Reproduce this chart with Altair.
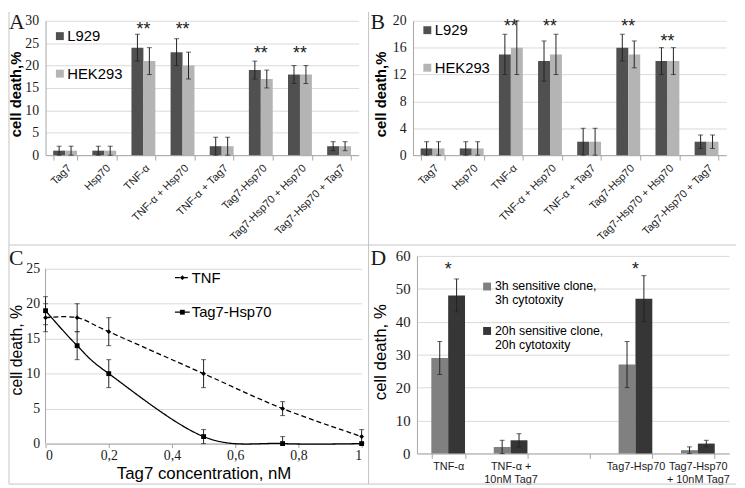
import altair as alt
import pandas as pd

SANS = "Liberation Sans"
SERIF = "Liberation Serif"
GRID = "#d9d9d9"
AXIS = "#a6a6a6"
ERR = "#222222"
BORDER = "#c4c4c4"
INK = "#1a1a1a"

# ---------------- data ----------------
CATEGORIES = ["Tag7", "Hsp70", "TNF-α", "TNF-α + Hsp70", "TNF-α + Tag7",
              "Tag7-Hsp70", "Tag7-Hsp70 + Hsp70", "Tag7-Hsp70 + Tag7"]
SERIES = ["L929", "HEK293"]
SERIES_COLORS = ["#505050", "#b4b4b4"]

A_L929 = [1, 1, 24, 23, 2, 19, 18, 2]
A_L929_ERR = [1, 1, 3, 3, 2, 2, 2, 1]
A_HEK293 = [1, 1, 21, 20, 2, 17, 18, 2]
A_HEK293_ERR = [1, 1, 3, 3, 2, 2, 2, 1]
A_STAR_CATS = ["TNF-α", "TNF-α + Hsp70", "Tag7-Hsp70", "Tag7-Hsp70 + Hsp70"]
A_STAR_Y = [28.0, 28.0, 22.5, 22.5]
A_TICKS = [0, 5, 10, 15, 20, 25, 30]

B_L929 = [1, 1, 15, 14, 2, 16, 14, 2]
B_L929_ERR = [1, 1, 3, 3, 2, 2, 2, 1]
B_HEK293 = [1, 1, 16, 15, 2, 15, 14, 2]
B_HEK293_ERR = [1, 1, 4, 3, 2, 2, 2, 1]
B_STAR_CATS = ["TNF-α", "TNF-α + Hsp70", "Tag7-Hsp70", "Tag7-Hsp70 + Hsp70"]
B_STAR_Y = [19.0, 19.0, 19.0, 16.9]
B_TICKS = [0, 4, 8, 12, 16, 20]

C_SERIES = ["TNF", "Tag7-Hsp70"]
C_X = [0, 0.1, 0.2, 0.5, 0.75, 1]
C_TNF = [18, 18, 16, 10, 5, 1]
C_TNF_ERR = [2, 2, 2, 2, 1, 1]
C_TAG = [19, 14, 10, 1, 0, 0]
C_TAG_ERR = [2, 2, 2, 1, 1, 0]
C_Y_TICKS = [0, 5, 10, 15, 20, 25]
C_X_TICKS = [0, 0.2, 0.4, 0.6, 0.8, 1]

D_CATS = ["TNF-α", "TNF-α +\n10nM Tag7", " ", "Tag7-Hsp70", "Tag7-Hsp70\n+ 10nM Tag7"]
D_SERIES = ["3h sensitive clone,\n3h cytotoxity", "20h sensitive clone,\n20h cytotoxity"]
D_COLORS = ["#808080", "#363636"]
D_3H = [29, 2, None, 27, 1]
D_3H_ERR = [5, 2, None, 7, 1]
D_20H = [48, 4, None, 47, 3]
D_20H_ERR = [5, 2, None, 7, 1]
D_STAR_CATS = ["TNF-α", "Tag7-Hsp70"]
D_STAR_Y = [55.8, 55.8]
D_TICKS = [0, 10, 20, 30, 40, 50, 60]


def grouped(cats, series, vals, errs):
    rows = []
    for s, vs, es in zip(series, vals, errs):
        for c, v, e in zip(cats, vs, es):
            if v is None:
                continue
            rows.append({"cat": c, "series": s, "v": v, "lo": max(0, v - e), "hi": v + e})
    return pd.DataFrame(rows)


def one():
    return pd.DataFrame({"k": [0]})


def vline(x, y1, y2):
    return alt.Chart(one()).mark_rule(color=BORDER, strokeWidth=1).encode(
        x=alt.value(x), y=alt.value(y1), y2=alt.value(y2))


def hline(y, x1, x2):
    return alt.Chart(one()).mark_rule(color=BORDER, strokeWidth=1).encode(
        y=alt.value(y), x=alt.value(x1), x2=alt.value(x2))


def letter(t, x, y):
    return alt.Chart(pd.DataFrame({"t": [t]})).mark_text(
        font=SERIF, fontSize=22, align="left", baseline="top", color=INK
    ).encode(text="t:N", x=alt.value(x), y=alt.value(y))


def bar_panel(df, cats, series, colors, ticks, star_cats, star_y, star_text,
              width, height, pad_inner, x_axis, y_axis, legend, deco):
    xs = alt.Scale(domain=cats, paddingInner=pad_inner, paddingOuter=pad_inner / 2)
    x = alt.X("cat:N", scale=xs, axis=x_axis)
    xo = alt.XOffset("series:N", scale=alt.Scale(domain=series, paddingInner=0, paddingOuter=0))
    ys = alt.Scale(domain=[0, ticks[-1]], nice=False)
    base = alt.Chart(df)
    bars = base.mark_bar().encode(
        x=x, xOffset=xo,
        y=alt.Y("v:Q", scale=ys, axis=y_axis),
        color=alt.Color("series:N", scale=alt.Scale(domain=series, range=colors), legend=legend),
    )
    err = base.mark_rule(color=ERR, strokeWidth=1).encode(
        x=x, xOffset=xo, y=alt.Y("lo:Q", scale=ys, axis=y_axis), y2="hi:Q")
    cap_lo = base.mark_tick(color=ERR, size=5, thickness=1, orient="horizontal").encode(
        x=x, xOffset=xo, y=alt.Y("lo:Q", scale=ys, axis=y_axis))
    cap_hi = base.mark_tick(color=ERR, size=5, thickness=1, orient="horizontal").encode(
        x=x, xOffset=xo, y=alt.Y("hi:Q", scale=ys, axis=y_axis))
    stars = alt.Chart(pd.DataFrame({"cat": star_cats, "y": star_y})).mark_text(
        text=star_text, font=SANS, fontSize=18, baseline="middle", align="center", color=INK
    ).encode(x=x, y=alt.Y("y:Q", scale=ys, axis=y_axis))
    return alt.layer(bars, err, cap_lo, cap_hi, stars, *deco).properties(width=width, height=height)


def ab_axes(ticks, title_x):
    x_axis = alt.Axis(title=None, labelAngle=-45, labelAlign="right", labelBaseline="top",
                      labelFont=SANS, labelFontSize=11, labelColor=INK, labelPadding=2,
                      labelOverlap=False, tickBand="extent", ticks=True, tickSize=5,
                      tickColor=AXIS, domainColor=AXIS, grid=False)
    y_axis = alt.Axis(values=ticks, title="cell death,%", titleFont=SANS, titleFontSize=15,
                      titleFontWeight="bold", titleColor="black", titleX=title_x, titleY=74,
                      titleAngle=270, titleAlign="center", titleBaseline="bottom",
                      labelFont=SERIF, labelFontSize=14, labelColor=INK, labelPadding=7,
                      ticks=False, domain=True, domainColor=AXIS, grid=True, gridColor=GRID)
    return x_axis, y_axis


def ab_legend(ly):
    return alt.Legend(title=None, orient="none", legendX=7, legendY=ly, symbolType="square",
                      symbolSize=64, symbolStrokeWidth=0, labelFont=SANS, labelFontSize=15,
                      labelColor="black", rowPadding=22, padding=0, labelOffset=0)


# ---------------- panel A ----------------
a_df = grouped(CATEGORIES, SERIES, [A_L929, A_HEK293], [A_L929_ERR, A_HEK293_ERR])
ax, ay = ab_axes(A_TICKS, -22)
panel_a = bar_panel(a_df, CATEGORIES, SERIES, SERIES_COLORS, A_TICKS, A_STAR_CATS, A_STAR_Y, "**",
                    317, 136, 0.39, ax, ay, ab_legend(8),
                    [vline(-37, -9, 227), hline(227, -37, 327), letter("A", -37, -9)])

# ---------------- panel B ----------------
b_df = grouped(CATEGORIES, SERIES, [B_L929, B_HEK293], [B_L929_ERR, B_HEK293_ERR])
bx, by = ab_axes(B_TICKS, -25)
panel_b = bar_panel(b_df, CATEGORIES, SERIES, SERIES_COLORS, B_TICKS, B_STAR_CATS, B_STAR_Y, "**",
                    317, 136, 0.39, bx, by, ab_legend(2),
                    [vline(-45, -9, 227), hline(227, -45, 327), letter("B", -43, -9)])

# ---------------- panel C ----------------
c_rows = []
for s, vs, es in zip(C_SERIES, [C_TNF, C_TAG], [C_TNF_ERR, C_TAG_ERR]):
    for xv, v, e in zip(C_X, vs, es):
        c_rows.append({"x": xv, "series": s, "v": v, "lo": max(0, v - e), "hi": v + e})
c_df = pd.DataFrame(c_rows)
C_W, C_H = 320, 190
c_xs = alt.Scale(domain=[0, 1], nice=False)
c_ys = alt.Scale(domain=[0, C_Y_TICKS[-1] * 190 / 177], nice=False)
c_x = alt.X("x:Q", scale=c_xs, axis=alt.Axis(
    values=C_X_TICKS, format=".1~f", labelExpr="replace(datum.label, '.', ',')",
    title="Tag7 concentration, nM", titleFont=SANS, titleFontSize=17, titleFontWeight="normal",
    titleColor="black", titlePadding=3, labelFont=SERIF, labelFontSize=14, labelColor=INK,
    labelPadding=1, grid=False, domainColor=AXIS, tickColor=AXIS, tickSize=4))
c_y_axis = alt.Axis(values=C_Y_TICKS, domain=False, ticks=False, grid=True, gridColor=GRID,
                    labelFont=SERIF, labelFontSize=14, labelColor=INK, labelPadding=6,
                    title="cell death, %", titleFont=SANS, titleFontSize=16, titleFontWeight="normal",
                    titleColor="black", titleX=-21, titleY=95, titleAngle=270, titleAlign="center",
                    titleBaseline="bottom")
dash_scale = alt.Scale(domain=C_SERIES, range=[[5, 3], [1, 0]])
shape_scale = alt.Scale(domain=C_SERIES, range=["diamond", "square"])
c_base = alt.Chart(c_df)
c_lines = c_base.mark_line(interpolate="cardinal", color="black", strokeWidth=1.3).encode(
    x=c_x, y=alt.Y("v:Q", scale=c_ys, axis=c_y_axis),
    strokeDash=alt.StrokeDash("series:N", scale=dash_scale, legend=None))
c_points = c_base.mark_point(filled=True, color="black", opacity=1, size=24).encode(
    x=c_x, y=alt.Y("v:Q", scale=c_ys, axis=c_y_axis),
    shape=alt.Shape("series:N", scale=shape_scale, legend=None))
c_err = c_base.mark_rule(color=ERR, strokeWidth=1).encode(
    x=c_x, y=alt.Y("lo:Q", scale=c_ys, axis=c_y_axis), y2="hi:Q")
c_cap_lo = c_base.mark_tick(color=ERR, size=5, thickness=1, orient="horizontal").encode(
    x=c_x, y=alt.Y("lo:Q", scale=c_ys, axis=c_y_axis))
c_cap_hi = c_base.mark_tick(color=ERR, size=5, thickness=1, orient="horizontal").encode(
    x=c_x, y=alt.Y("hi:Q", scale=c_ys, axis=c_y_axis))
c_axis_line = alt.Chart(pd.DataFrame({"x": [0], "y": [0], "y2": [C_Y_TICKS[-1]]})).mark_rule(
    color=AXIS).encode(x=c_x, y=alt.Y("y:Q", scale=c_ys, axis=c_y_axis), y2="y2:Q")

c_leg = []
for i, s in enumerate(C_SERIES):
    ly = 22 + 35 * i
    d1 = pd.DataFrame({"series": [s]})
    c_leg.append(alt.Chart(d1).mark_rule(color="black", strokeWidth=1.3).encode(
        x=alt.value(131), x2=alt.value(146), y=alt.value(ly),
        strokeDash=alt.StrokeDash("series:N", scale=dash_scale, legend=None)))
    c_leg.append(alt.Chart(d1).mark_point(filled=True, color="black", opacity=1, size=24).encode(
        x=alt.value(138.5), y=alt.value(ly),
        shape=alt.Shape("series:N", scale=shape_scale, legend=None)))
    c_leg.append(alt.Chart(d1).mark_text(font=SANS, fontSize=15, align="left", baseline="middle",
                                         color="black").encode(
        text="series:N", x=alt.value(148), y=alt.value(ly)))

panel_c = alt.layer(
    c_axis_line, c_lines, c_err, c_cap_lo, c_cap_hi, c_points, *c_leg,
    vline(-37, -11, 231), hline(231, -37, 327), letter("C", -37, -8)
).properties(width=C_W, height=C_H)

# ---------------- panel D ----------------
d_df = grouped(D_CATS, D_SERIES, [D_3H, D_20H], [D_3H_ERR, D_20H_ERR])
d_x_axis = alt.Axis(title=None, labelAngle=0, labelFont=SANS, labelFontSize=11, labelColor=INK,
                    labelPadding=2, labelLineHeight=13, labelExpr="split(datum.label, '\\n')",
                    labelOverlap=False, tickBand="extent", ticks=True, tickSize=5, tickColor=AXIS,
                    domainColor=AXIS, grid=False)
d_y_axis = alt.Axis(values=D_TICKS, title="cell death, %", titleFont=SANS, titleFontSize=17,
                    titleFontWeight="normal", titleColor="black", titleX=-28, titleY=97,
                    titleAngle=270, titleAlign="center", titleBaseline="bottom",
                    labelFont=SERIF, labelFontSize=15, labelColor=INK, labelPadding=7,
                    ticks=False, domain=True, domainColor=AXIS, grid=True, gridColor=GRID)
d_leg = []
for i, s in enumerate(D_SERIES):
    d1 = pd.DataFrame({"series": [s]})
    d_leg.append(alt.Chart(d1).mark_point(shape="square", filled=True, opacity=1, size=64).encode(
        x=alt.value(71), y=alt.value(31 + 45 * i),
        color=alt.Color("series:N", scale=alt.Scale(domain=D_SERIES, range=D_COLORS), legend=None)))
    for j, line in enumerate(s.split("\n")):
        d_leg.append(alt.Chart(pd.DataFrame({"t": [line]})).mark_text(
            font=SANS, fontSize=12.5, align="left", baseline="middle", color="black"
        ).encode(text="t:N", x=alt.value(79), y=alt.value(31 + 45 * i + 14 * j)))
panel_d = bar_panel(d_df, D_CATS, D_SERIES, D_COLORS, D_TICKS, D_STAR_CATS, D_STAR_Y, "*",
                    316, 200, 0.46, d_x_axis, d_y_axis, None,
                    d_leg + [vline(-49, -11, 231), hline(231, -49, 323), letter("D", -47, -8)])

row1 = alt.hconcat(panel_a, panel_b, spacing=55, bounds="flush").resolve_scale(
    x="independent", y="independent", color="independent", xOffset="independent")
row2 = alt.hconcat(panel_c, panel_d, spacing=56, bounds="flush").resolve_scale(
    x="independent", y="independent", color="independent", xOffset="independent",
    shape="independent", strokeDash="independent")
chart = alt.vconcat(row1, row2, spacing=238, bounds="flush").resolve_scale(
    x="independent", y="independent", color="independent", xOffset="independent",
    shape="independent", strokeDash="independent"
).properties(padding=0).configure_view(stroke=None)

chart.save("out.html", embed_options={"renderer": "svg", "actions": False})
